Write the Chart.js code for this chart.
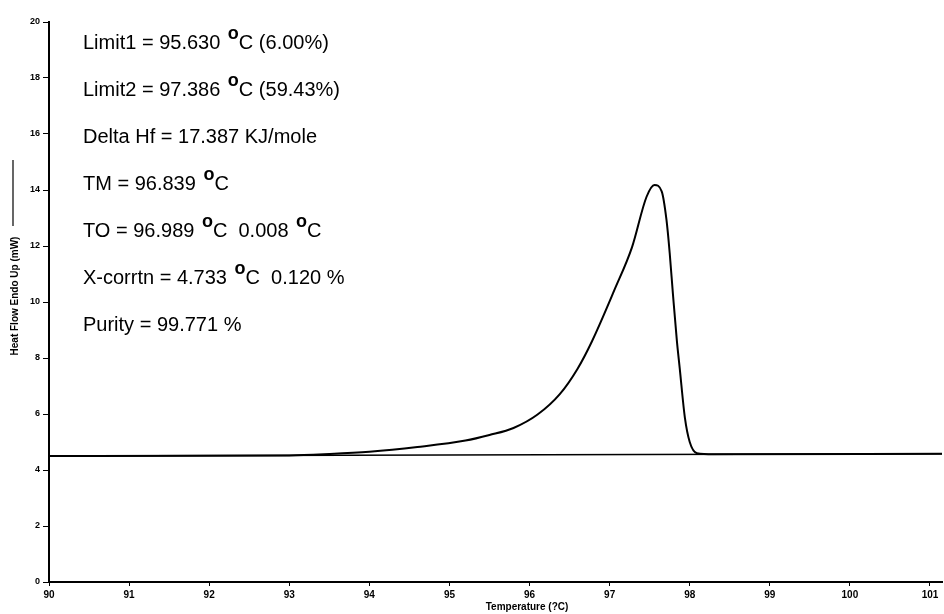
<!DOCTYPE html>
<html>
<head>
<meta charset="utf-8">
<script src="https://cdn.jsdelivr.net/npm/chart.js@4.4.0/dist/chart.umd.min.js"></script>
<style>
  html, body { margin: 0; padding: 0; background: #fff; }
  #wrap { width: 944px; height: 614px; }
</style>
</head>
<body>
<div id="wrap"><canvas id="dscChart" width="944" height="614"></canvas></div>
<script>
// DSC melting endotherm (purity run)
const tempC    = [90, 93.0, 93.5, 94.0, 94.6, 95.2, 95.5, 95.8, 96.1, 96.375, 96.6, 96.78, 97.06, 97.28, 97.46, 97.56, 97.65, 97.71, 97.75, 97.79, 97.84, 97.875, 97.94, 98.0, 98.09, 98.3, 101.15];
const heatFlow = [4.5, 4.52, 4.57, 4.65, 4.82, 5.05, 5.25, 5.5, 5.98, 6.7, 7.62, 8.6, 10.43, 11.96, 13.75, 14.18, 13.95, 12.93, 11.75, 10.3, 8.6, 7.64, 5.86, 5.0, 4.6, 4.56, 4.58];

// straight baseline under the peak
const baseTemp = [90, 101.15];
const baseFlow = [4.5, 4.58];

const xTicks = [90, 91, 92, 93, 94, 95, 96, 97, 98, 99, 100, 101];
const yTicks = [0, 2, 4, 6, 8, 10, 12, 14, 16, 18, 20];

const infoLines = [
    'Limit1 = 95.630 °C (6.00%)',
    'Limit2 = 97.386 °C (59.43%)',
    'Delta Hf = 17.387 KJ/mole',
    'TM = 96.839 °C',
    'TO = 96.989 °C  0.008 °C',
    'X-corrtn = 4.733 °C  0.120 %',
    'Purity = 99.771 %'
];

const xTitle = 'Temperature (?C)';
const yTitle = 'Heat Flow Endo Up (mW)';

function toPoints(xs, ys) {
    return xs.map((x, i) => ({ x: x, y: ys[i] }));
}

// text block + axis titles
const textPlugin = {
    id: 'dscText',
    afterDraw(chart) {
        const ctx = chart.ctx;
        ctx.save();
        ctx.fillStyle = '#000';
        ctx.textBaseline = 'alphabetic';
        ctx.textAlign = 'left';

        infoLines.forEach((line, i) => {
            const y = 49 + 47 * i;
            let x = 83;
            const parts = line.split('°');
            parts.forEach((part, j) => {
                if (j > 0) {
                    // raised degree ring
                    x += 2;
                    ctx.font = 'bold 18px "Liberation Sans", Arial';
                    ctx.fillText('o', x, y - 10);
                    x += ctx.measureText('o').width;
                }
                ctx.font = '20px "Liberation Sans", Arial';
                ctx.fillText(part, x, y);
                x += ctx.measureText(part).width;
            });
        });

        // x axis title
        ctx.font = 'bold 10px "Liberation Sans", Arial';
        ctx.textAlign = 'center';
        ctx.textBaseline = 'middle';
        ctx.fillText(xTitle, 527, 607);

        // y axis title, rotated, with the trace marker line
        ctx.translate(15, 296);
        ctx.rotate(-Math.PI / 2);
        ctx.fillText(yTitle, 0, 0);
        ctx.restore();

        ctx.save();
        ctx.strokeStyle = '#000';
        ctx.lineWidth = 1.2;
        ctx.beginPath();
        ctx.moveTo(13, 160);
        ctx.lineTo(13, 226);
        ctx.stroke();
        ctx.restore();
    }
};

const ctx = document.getElementById('dscChart').getContext('2d');
const dscChart = new Chart(ctx, {
    type: 'scatter',
    data: {
        datasets: [
            {
                label: 'Heat Flow',
                data: toPoints(tempC, heatFlow),
                showLine: true,
                borderColor: '#000',
                borderWidth: 2,
                pointRadius: 0,
                cubicInterpolationMode: 'monotone'
            },
            {
                label: 'Baseline',
                data: toPoints(baseTemp, baseFlow),
                showLine: true,
                borderColor: '#000',
                borderWidth: 1.5,
                pointRadius: 0
            }
        ]
    },
    options: {
        responsive: false,
        animation: false,
        devicePixelRatio: 1,
        layout: { padding: { top: 22, right: 2, left: 0, bottom: 0 } },
        plugins: {
            legend: { display: false },
            tooltip: { enabled: false }
        },
        scales: {
            x: {
                type: 'linear',
                min: 90,
                max: 101.15,
                afterBuildTicks: axis => { axis.ticks = xTicks.map(v => ({ value: v })); },
                afterFit: scale => { scale.height = 32; },
                ticks: {
                    color: '#000',
                    font: { family: '"Liberation Sans", Arial', size: 10, weight: 'bold' },
                    padding: 3,
                    maxRotation: 0
                },
                grid: { drawOnChartArea: false, color: '#000', tickLength: 4 },
                border: { color: '#000', width: 2 }
            },
            y: {
                min: 0,
                max: 20,
                afterBuildTicks: axis => { axis.ticks = yTicks.map(v => ({ value: v })); },
                afterFit: scale => { scale.width = 49; },
                ticks: {
                    color: '#000',
                    font: { family: '"Liberation Sans", Arial', size: 9, weight: 'bold' },
                    padding: 3
                },
                grid: { drawOnChartArea: false, color: '#000', tickLength: 6 },
                border: { color: '#000', width: 2 }
            }
        }
    },
    plugins: [textPlugin]
});
</script>
</body>
</html>
